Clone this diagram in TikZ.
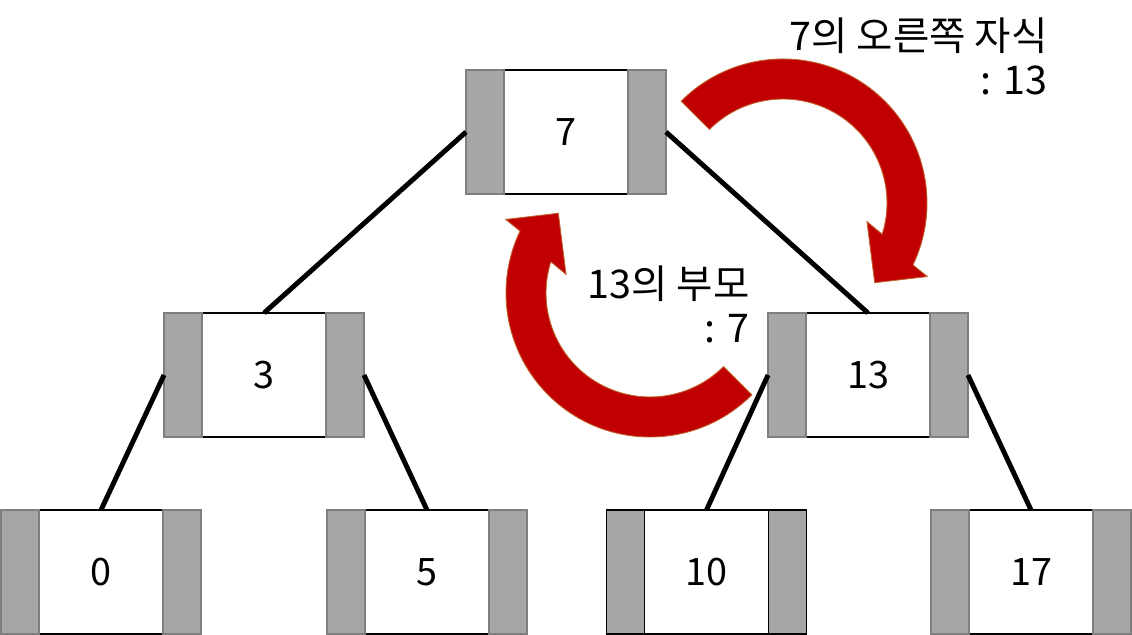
\documentclass[tikz,border=0pt]{standalone}
\usepackage{fontspec}
\newfontfamily\kr{Noto Sans CJK KR}
\usetikzlibrary{calc}
\definecolor{boxgray}{HTML}{A6A6A6}
\definecolor{boxedge}{HTML}{7F7F7F}
\definecolor{arrowred}{HTML}{C00000}
\definecolor{arrowedge}{HTML}{C0602A}
\newcommand\treebox[4][boxedge]{%
  \node[core] (#2) at (#3) {#4};
  \node[side, draw=#1, anchor=east] (#2-l) at (#2.west) {};
  \node[side, draw=#1, anchor=west] (#2-r) at (#2.east) {};}
\newcommand\bendarrow{%
  \path[turn] (135:144) arc[start angle=135,end angle=-25.5,radius=144]
    -- (-27:162) -- (-41:121.5) -- (-12.5:86) -- (-17.5:104)
    arc[start angle=-17.5,end angle=135,radius=104] -- cycle;}
\begin{document}
\begin{tikzpicture}[x=0.02cm,y=0.02cm,
  font=\kr\fontsize{21.5}{26}\selectfont,
  core/.style={draw=black, line width=1pt, fill=white, minimum width=2.48cm, minimum height=2.48cm, inner sep=0, outer sep=0},
  side/.style={line width=1.1pt, fill=boxgray, minimum width=0.76cm, minimum height=2.48cm, inner sep=0, outer sep=0},
  edge/.style={line width=2.8pt},
  turn/.style={fill=arrowred, draw=arrowedge, line width=0.5pt},
  label/.style={anchor=base east, align=right, inner sep=0, font=\kr\fontsize{22.5}{25.5}\selectfont}]
\useasboundingbox (0,0) rectangle (1132,635);
\treebox{n7}{566,503}{7}
\treebox{n3}{264,260}{3}
\treebox{n13}{868,260}{13}
\treebox{n0}{101,63}{0}
\treebox{n5}{427,63}{5}
\treebox[black]{n10}{706.5,63}{10}
\treebox{n17}{1031,63}{17}
\draw[edge] (n7-l.west) -- (n3.north);
\draw[edge] (n7-r.east) -- (n13.north);
\draw[edge] (n3-l.west) -- (n0.north);
\draw[edge] (n3-r.east) -- (n5.north);
\draw[edge] (n13-l.west) -- (n10.north);
\draw[edge] (n13-r.east) -- (n17.north);
\begin{scope}[shift={(783,432)}]\bendarrow\end{scope}
\begin{scope}[shift={(650,342)},rotate=180]\bendarrow\end{scope}
\node[label] (t1) at (1048,540) {7의 오른쪽 자식\\: 13};
\node[label] (t2) at (750,292) {13의 부모\\: 7};
\end{tikzpicture}
\end{document}
